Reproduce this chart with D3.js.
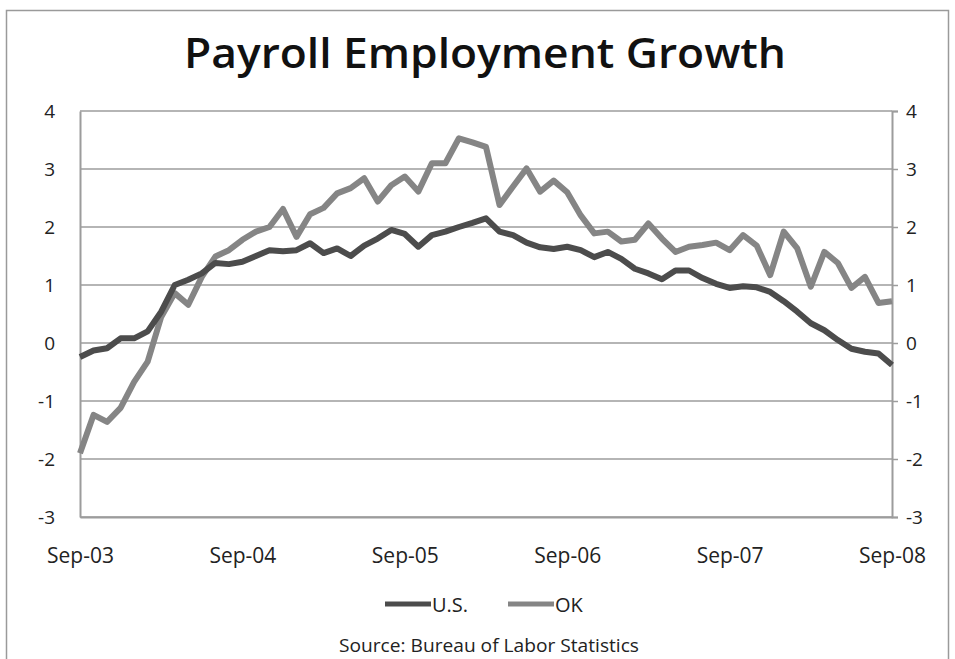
<!DOCTYPE html>
<html>
<head>
<meta charset="utf-8">
<script src="https://cdn.jsdelivr.net/npm/d3@7"></script>
<style>
  html, body { margin: 0; padding: 0; background: #fff; }
  svg text { font-family: "Open Sans", "DejaVu Sans", sans-serif; }
</style>
</head>
<body>
<div id="chart"></div>
<script>
const tickLabels = ["Sep-03", "Sep-04", "Sep-05", "Sep-06", "Sep-07", "Sep-08"];
const yTicks = [-3, -2, -1, 0, 1, 2, 3, 4];
const seriesNames = ["U.S.", "OK"];

// Monthly, Sep-03 .. Sep-08 (61 months)
const usValues = [
  -0.24, -0.13, -0.09, 0.08, 0.08, 0.2, 0.54, 1.0, 1.09, 1.2,
  1.38, 1.36, 1.4, 1.5, 1.6, 1.58, 1.6, 1.72, 1.55, 1.63,
  1.5, 1.68, 1.8, 1.95, 1.88, 1.66, 1.86, 1.92, 2.0, 2.07,
  2.15, 1.92, 1.86, 1.73, 1.65, 1.62, 1.66, 1.6, 1.48, 1.57,
  1.45, 1.28, 1.2, 1.1, 1.25, 1.25, 1.12, 1.02, 0.95, 0.98,
  0.96, 0.88, 0.72, 0.54, 0.34, 0.22, 0.05, -0.1, -0.15, -0.18,
  -0.38
];
const okValues = [
  -1.9, -1.24, -1.36, -1.12, -0.67, -0.32, 0.45, 0.86, 0.66, 1.14,
  1.49, 1.6, 1.78, 1.92, 2.0, 2.31, 1.83, 2.22, 2.33, 2.58,
  2.67, 2.84, 2.44, 2.72, 2.87, 2.61, 3.1, 3.1, 3.53, 3.46,
  3.38, 2.38, 2.7, 3.01, 2.61, 2.8, 2.6, 2.2, 1.89, 1.92,
  1.75, 1.78, 2.06, 1.8, 1.57, 1.66, 1.69, 1.73, 1.6, 1.86,
  1.68, 1.17, 1.92, 1.63, 0.97, 1.57, 1.38, 0.95, 1.14, 0.69,
  0.72
];

const W = 955, H = 659;
const plot = { left: 80, right: 892, top: 111, bottom: 517 };

const svg = d3.select("#chart").append("svg")
  .attr("width", W).attr("height", H);

// outer frame
svg.append("rect")
  .attr("x", 6.5).attr("y", 10.5).attr("width", 942).attr("height", 700)
  .attr("fill", "#fff").attr("stroke", "#9a9a9a").attr("stroke-width", 1.5);

const x = d3.scaleLinear().domain([0, usValues.length - 1]).range([plot.left, plot.right]);
const y = d3.scaleLinear().domain([-3, 4]).range([plot.bottom, plot.top]);
const fmt = d => String(d);

// gridlines
svg.append("g")
  .selectAll("line").data(yTicks).join("line")
  .attr("x1", plot.left).attr("x2", plot.right)
  .attr("y1", d => y(d)).attr("y2", d => y(d))
  .attr("stroke", "#9c9c9c").attr("stroke-width", 1.5);

// left axis
const leftAxis = d3.axisLeft(y).tickValues(yTicks).tickSize(0).tickPadding(25).tickFormat(fmt);
const gl = svg.append("g").attr("transform", `translate(${plot.left},0)`).call(leftAxis);
gl.select(".domain").attr("stroke", "#9c9c9c").attr("stroke-width", 2);
gl.selectAll("text").attr("font-size", 19).attr("fill", "#222");

// right axis
const rightAxis = d3.axisRight(y).tickValues(yTicks).tickSize(6).tickPadding(8).tickFormat(fmt);
const gr = svg.append("g").attr("transform", `translate(${plot.right},0)`).call(rightAxis);
gr.select(".domain").attr("stroke", "#9c9c9c").attr("stroke-width", 2);
gr.selectAll(".tick line").attr("stroke", "#9c9c9c").attr("stroke-width", 1.5);
gr.selectAll("text").attr("font-size", 19).attr("fill", "#222");

// bottom axis
const xTickIdx = tickLabels.map((_, i) => i * 12);
const bottomAxis = d3.axisBottom(x).tickValues(xTickIdx).tickSize(0).tickPadding(31)
  .tickFormat((d, i) => tickLabels[i]);
const gb = svg.append("g").attr("transform", `translate(0,${plot.bottom})`).call(bottomAxis);
gb.select(".domain").attr("stroke", "#9c9c9c").attr("stroke-width", 2);
gb.selectAll("text").attr("font-size", 21).attr("fill", "#222");

// lines
const line = d3.line().x((d, i) => x(i)).y(d => y(d)).curve(d3.curveLinear);
const colors = ["#4c4c4c", "#858585"];
const data = [usValues, okValues];
svg.append("g").selectAll("path").data(data.slice().reverse()).join("path")
  .attr("d", line)
  .attr("fill", "none")
  .attr("stroke", (d, i) => colors[1 - i])
  .attr("stroke-width", 6)
  .attr("stroke-linejoin", "round");

// title
svg.append("text")
  .attr("x", 485).attr("y", 68)
  .attr("text-anchor", "middle")
  .attr("font-size", 42).attr("font-weight", 600)
  .attr("textLength", 602).attr("lengthAdjust", "spacingAndGlyphs")
  .attr("fill", "#111")
  .text("Payroll Employment Growth");

// legend
const legendItems = [
  { name: seriesNames[0], color: colors[0], x: 385 },
  { name: seriesNames[1], color: colors[1], x: 508 }
];
const lg = svg.append("g");
legendItems.forEach(it => {
  lg.append("line")
    .attr("x1", it.x).attr("x2", it.x + 46)
    .attr("y1", 604).attr("y2", 604)
    .attr("stroke", it.color).attr("stroke-width", 5);
  lg.append("text")
    .attr("x", it.x + 47).attr("y", 612)
    .attr("font-size", 20).attr("fill", "#222")
    .text(it.name);
});

// source
svg.append("text")
  .attr("x", 489).attr("y", 652)
  .attr("text-anchor", "middle")
  .attr("font-size", 18).attr("fill", "#222")
  .attr("textLength", 300).attr("lengthAdjust", "spacingAndGlyphs")
  .text("Source: Bureau of Labor Statistics");
</script>
</body>
</html>
